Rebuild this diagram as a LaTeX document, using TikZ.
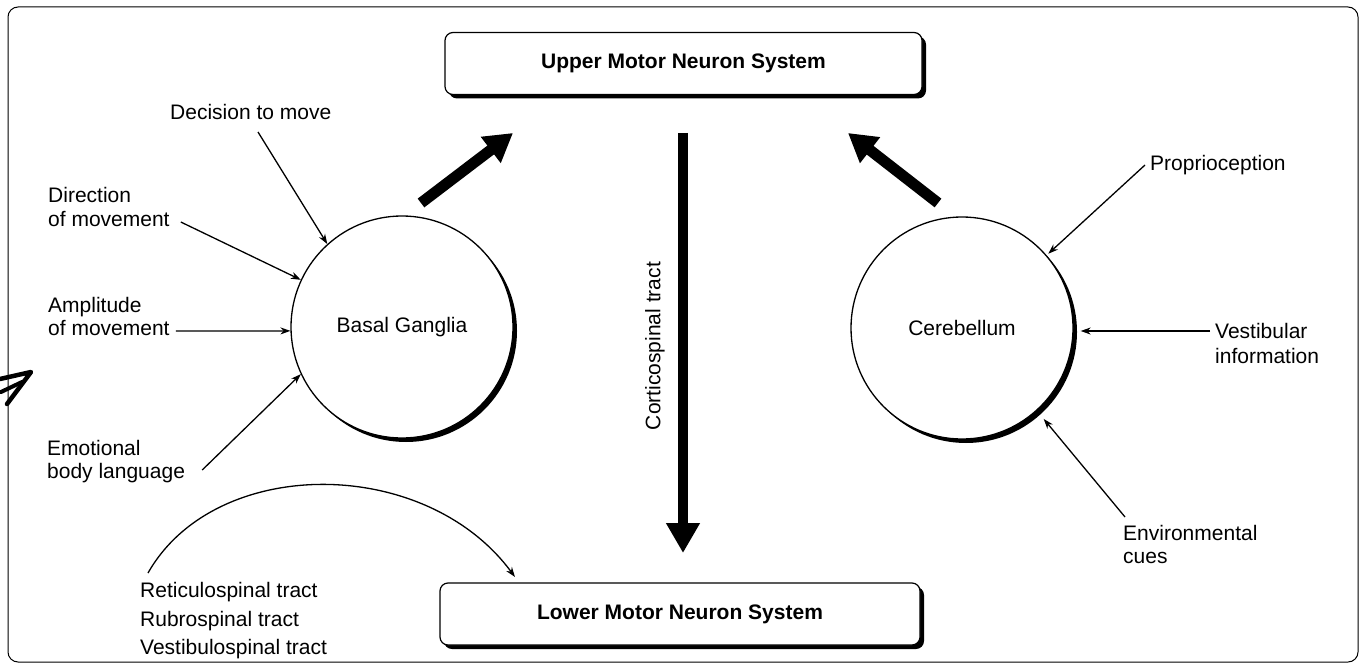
\documentclass[tikz,border=0pt]{standalone}
\usepackage{fontspec}
\setmainfont{Liberation Sans}
\usetikzlibrary{arrows.meta,shadows}
\begin{document}
\begin{tikzpicture}[x=1pt,y=-1pt,
  every node/.style={font=\fontsize{21}{24}\selectfont, inner sep=0pt},
  lbl/.style={anchor=base west},
  conn/.style={line width=1.3pt, -{Stealth[length=10pt,width=7pt]}},
  fat/.style={line width=11pt, -{Triangle[length=28pt,width=31pt]}},
  hardshadow/.style={drop shadow={shadow xshift=4pt,shadow yshift=-4pt,fill=black,opacity=1}},
  sysbox/.style={draw, line width=1.2pt, rounded corners=8pt, fill=white, hardshadow,
    minimum height=62pt, font=\bfseries\fontsize{21}{24}\selectfont},
  brain/.style={circle, draw, line width=1.3pt, fill=white, hardshadow, minimum size=222pt}]
\useasboundingbox (0,0) rectangle (1367,666);
% frame
\draw[line width=1pt, rounded corners=10pt] (8,7) rectangle (1358,662);
% scribble at the left edge
\draw[line width=4.5pt, line cap=round, line join=round] (0,379) -- (31,372) -- (7,404);
\draw[line width=4pt, line cap=round] (1,392) -- (22,382);
% boxes
\node[sysbox, minimum width=477pt] (ub) at (683.5,63.5) {Upper Motor Neuron System};
\node[sysbox, minimum width=480pt] (lb) at (680,614) {Lower Motor Neuron System};
% circles
\node[brain] (bg) at (402,327) {Basal Ganglia};
\node[brain] (cb) at (962,328) {Cerebellum};
% labels
\node[lbl] (dec) at (170,120) {Decision to move};
\node[lbl] (dir1) at (48,202) {Direction};
\node[lbl] (dir2) at (48,226) {of movement};
\node[lbl] (amp1) at (48,312) {Amplitude};
\node[lbl] (amp2) at (48,335) {of movement};
\node[lbl] (emo1) at (47,455) {Emotional};
\node[lbl] (emo2) at (47,478) {body language};
\node[lbl] (ret) at (140,597) {Reticulospinal tract};
\node[lbl] (rub) at (140,626) {Rubrospinal tract};
\node[lbl] (ves) at (140,654) {Vestibulospinal tract};
\node[lbl] (pro) at (1150,170) {Proprioception};
\node[lbl] (vi1) at (1215,338) {Vestibular};
\node[lbl] (vi2) at (1215,363) {information};
\node[lbl] (env1) at (1123,540) {Environmental};
\node[lbl] (env2) at (1123,563) {cues};
\node[rotate=90] (cst) at (655,346) {Corticospinal tract};
% thin connectors
\draw[conn] ([shift={(88,12)}]dec.base west) -- (bg.132.5);
\draw[conn] ([shift={(11,-4)}]dir2.base east) -- (bg.155.7);
\draw[conn] ([shift={(6,-4)}]amp2.base east) -- (bg.182);
\draw[conn] ([shift={(17,-8)}]emo2.base east) -- (bg.205);
\draw[conn] ([shift={(-5,-5)}]pro.base west) -- ([shift={(2,-1)}]cb.41.5);
\draw[conn] ([shift={(-5,-7)}]vi1.base west) -- ([shift={(7,3)}]cb.0);
\draw[conn] ([shift={(2,-23)}]env1.base west) -- ([shift={(7,8)}]cb.-48);
% curved connector
\coordinate (cs) at (148,573);
\coordinate (ce) at (515,577);
\draw[conn] (cs) .. controls (215,455) and (425,455) .. (ce);
% thick arrows
\coordinate (bgt) at (421,203);
\coordinate (bgh) at (513,133);
\draw[fat] (bgt) -- (bgh);
\coordinate (cbt) at (938,203);
\coordinate (cbh) at (848,133);
\draw[fat] (cbt) -- (cbh);
\coordinate (cst1) at (683,133);
\coordinate (cst2) at (683,553);
\draw[line width=10pt, -{Triangle[length=30pt,width=32pt]}] (cst1) -- (cst2);
\end{tikzpicture}
\end{document}
